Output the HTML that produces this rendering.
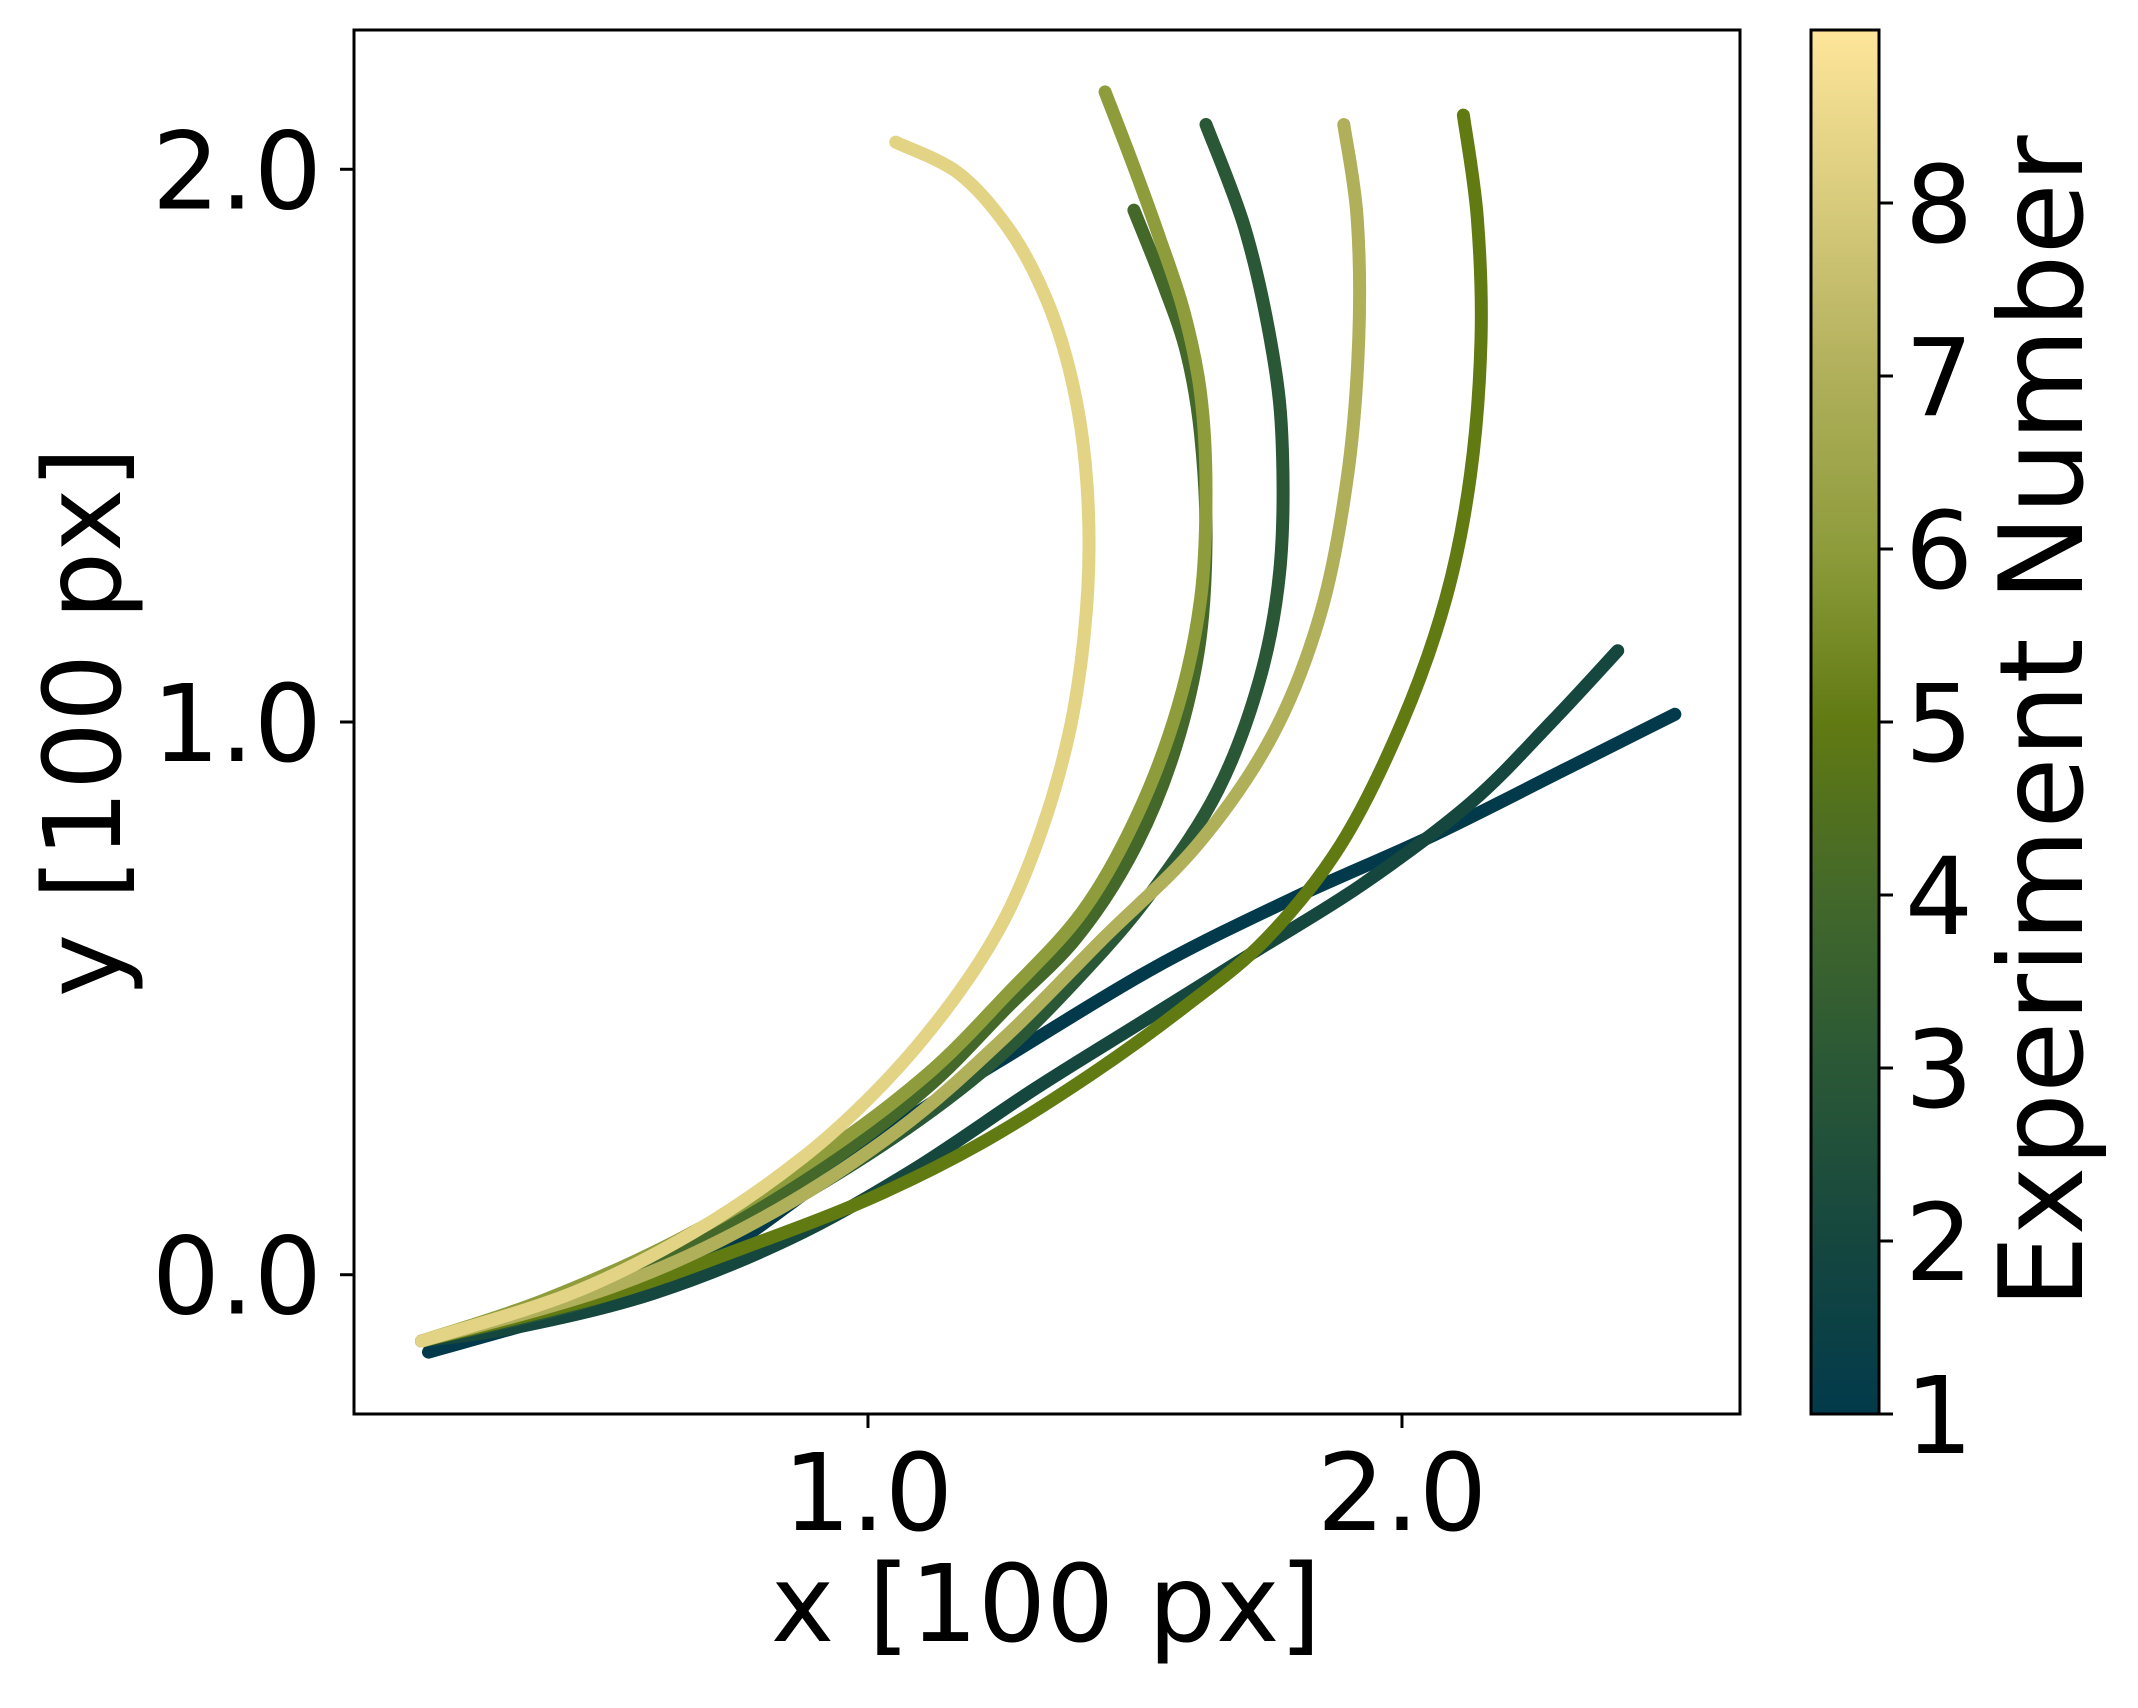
<!DOCTYPE html>
<html><head><meta charset="utf-8"><style>
html,body{margin:0;padding:0;background:#fff;}
svg text{font-family:"DejaVu Sans","Liberation Sans",sans-serif;fill:#000;}
</style></head><body>
<svg id="chart" width="2138" height="1703" viewBox="0 0 2138 1703" xmlns="http://www.w3.org/2000/svg">
<defs>
<linearGradient id="cmap" x1="0" y1="1" x2="0" y2="0">
<stop offset="0" stop-color="#023a4b"/>
<stop offset="0.125" stop-color="#15473f"/>
<stop offset="0.25" stop-color="#2a5836"/>
<stop offset="0.375" stop-color="#43682a"/>
<stop offset="0.5" stop-color="#617a12"/>
<stop offset="0.625" stop-color="#8e9c3c"/>
<stop offset="0.75" stop-color="#b0af5a"/>
<stop offset="0.875" stop-color="#d8cb7c"/>
<stop offset="1" stop-color="#fee59a"/>
</linearGradient>
</defs>
<g id="plot"></g>
<rect x="354" y="30" width="1386" height="1384" fill="none" stroke="#000" stroke-width="3"/>
<g id="axes"></g>
<rect x="1811" y="30" width="68" height="1384" fill="url(#cmap)" stroke="#000" stroke-width="3"/>
<g id="cbar"></g>
<text x="1046" y="1641" font-size="107" text-anchor="middle">x [100 px]</text>
<text transform="translate(120,722) rotate(-90)" font-size="107" text-anchor="middle">y [100 px]</text>
<text transform="translate(2082,722) rotate(-90)" font-size="116" text-anchor="middle">Experiment Number</text>
</svg>
<script>
const xTicks = [1.0, 2.0];
const xTickLabels = ["1.0", "2.0"];
const yTicks = [0.0, 1.0, 2.0];
const yTickLabels = ["0.0", "1.0", "2.0"];
const cbarTicks = [1, 2, 3, 4, 5, 6, 7, 8];
const experiments = [1, 2, 3, 4, 5, 6, 7, 8.3];
const exp1X = [2.511,2.307,2.052,1.796,1.541,1.286,1.082,0.904,0.700,0.470,0.177];
const exp1Y = [1.014,0.915,0.792,0.681,0.558,0.410,0.287,0.163,0.028,-0.058,-0.140];
const exp2X = [2.404,2.281,2.128,1.924,1.720,1.516,1.312,1.082,0.853,0.597,0.342,0.164];
const exp2Y = [1.129,1.001,0.853,0.705,0.582,0.459,0.336,0.188,0.065,-0.034,-0.095,-0.120];
const exp3X = [1.633,1.707,1.758,1.776,1.771,1.733,1.656,1.541,1.414,1.235,1.031,0.776,0.521,0.164];
const exp3Y = [2.081,1.889,1.667,1.494,1.272,1.075,0.878,0.705,0.558,0.385,0.237,0.089,-0.034,-0.120];
const exp4X = [1.498,1.554,1.597,1.623,1.633,1.618,1.567,1.490,1.388,1.261,1.108,0.904,0.649,0.393,0.164];
const exp4Y = [1.926,1.790,1.667,1.519,1.322,1.125,0.927,0.755,0.607,0.484,0.336,0.188,0.040,-0.058,-0.120];
const exp5X = [2.115,2.141,2.148,2.128,2.082,2.001,1.886,1.745,1.592,1.414,1.210,1.006,0.776,0.521,0.164];
const exp5Y = [2.098,1.913,1.691,1.445,1.223,1.001,0.779,0.607,0.484,0.360,0.237,0.139,0.052,-0.034,-0.120];
const exp6X = [1.444,1.495,1.546,1.592,1.623,1.633,1.623,1.580,1.503,1.401,1.261,1.108,0.904,0.649,0.393,0.164];
const exp6Y = [2.140,2.012,1.876,1.741,1.593,1.420,1.223,1.026,0.829,0.656,0.508,0.360,0.212,0.065,-0.046,-0.120];
const exp7X = [1.891,1.916,1.919,1.898,1.848,1.758,1.618,1.439,1.261,1.057,0.802,0.521,0.164];
const exp7Y = [2.081,1.913,1.691,1.445,1.198,0.977,0.779,0.607,0.434,0.262,0.102,-0.022,-0.120];
const exp8X = [1.052,1.171,1.266,1.332,1.376,1.404,1.414,1.404,1.376,1.325,1.256,1.159,1.031,0.878,0.674,0.444,0.164];
const exp8Y = [2.049,1.992,1.889,1.770,1.642,1.494,1.322,1.149,0.977,0.804,0.644,0.496,0.348,0.212,0.077,-0.034,-0.120];

const seriesX = [exp1X,exp2X,exp3X,exp4X,exp5X,exp6X,exp7X,exp8X];
const seriesY = [exp1Y,exp2Y,exp3Y,exp4Y,exp5Y,exp6Y,exp7Y,exp8Y];

const NS = "http://www.w3.org/2000/svg";
const X0 = 354, X1 = 1740, Y0 = 30, Y1 = 1414;
const xMin = 0.0375, xMax = 2.633, yMin = -0.252, yMax = 2.252;
function sx(v){ return X0 + (v - xMin) / (xMax - xMin) * (X1 - X0); }
function sy(v){ return Y1 - (v - yMin) / (yMax - yMin) * (Y1 - Y0); }
const cMin = 1, cMax = 9;
function cy(v){ return Y1 - (v - cMin) / (cMax - cMin) * (Y1 - Y0); }
const stops = [[0,[2,58,75]],[0.125,[21,71,63]],[0.25,[42,88,54]],[0.375,[67,104,42]],[0.5,[97,122,18]],[0.625,[142,156,60]],[0.75,[176,175,90]],[0.875,[216,203,124]],[1,[254,229,154]]];
function cmap(v){
  const t = Math.max(0, Math.min(1, (v - cMin) / (cMax - cMin)));
  for (let i = 1; i < stops.length; i++) {
    if (t <= stops[i][0]) {
      const a = stops[i-1], b = stops[i], f = (t - a[0]) / (b[0] - a[0]);
      const c = a[1].map((q, k) => Math.round(q + (b[1][k] - q) * f));
      return "rgb(" + c.join(",") + ")";
    }
  }
  return "rgb(254,229,154)";
}
function smoothPath(pts){
  let d = "M" + pts[0][0] + "," + pts[0][1];
  for (let i = 0; i < pts.length - 1; i++) {
    const p0 = pts[Math.max(0, i-1)], p1 = pts[i], p2 = pts[i+1], p3 = pts[Math.min(pts.length-1, i+2)];
    const c1x = p1[0] + (p2[0]-p0[0])/6, c1y = p1[1] + (p2[1]-p0[1])/6;
    const c2x = p2[0] - (p3[0]-p1[0])/6, c2y = p2[1] - (p3[1]-p1[1])/6;
    d += " C" + c1x + "," + c1y + " " + c2x + "," + c2y + " " + p2[0] + "," + p2[1];
  }
  return d;
}
const plot = document.getElementById("plot");
for (let s = 0; s < seriesX.length; s++) {
  const pts = seriesX[s].map((v, i) => [sx(v), sy(seriesY[s][i])]);
  const col = cmap(experiments[s]);
  const p = document.createElementNS(NS, "path");
  
  
  p.setAttribute("d", smoothPath(pts));
  p.setAttribute("fill", "none");
  p.setAttribute("stroke", col);
  p.setAttribute("stroke-width", "13");
  p.setAttribute("stroke-linecap", "round");
  p.setAttribute("stroke-linejoin", "round");
  plot.appendChild(p);
}
const axes = document.getElementById("axes");
function add(parent, tag, attrs, text){
  const e = document.createElementNS(NS, tag);
  for (const k in attrs) e.setAttribute(k, attrs[k]);
  if (text !== undefined) e.textContent = text;
  parent.appendChild(e);
  return e;
}
xTicks.forEach((v, i) => {
  const t = add(axes, "line", {x1: sx(v), x2: sx(v), y1: Y1, y2: Y1 + 14, stroke: "#000", "stroke-width": 3});
  
  
  const l = add(axes, "text", {x: sx(v), y: 1530, "font-size": 107, "text-anchor": "middle"}, xTickLabels[i]);
  
  
});
yTicks.forEach((v, i) => {
  const t = add(axes, "line", {x1: X0 - 14, x2: X0, y1: sy(v), y2: sy(v), stroke: "#000", "stroke-width": 3});
  
  
  const l = add(axes, "text", {x: 322, y: sy(v) + 39, "font-size": 107, "text-anchor": "end"}, yTickLabels[i]);
  
  
});
const cb = document.getElementById("cbar");
cbarTicks.forEach(v => {
  const t = add(cb, "line", {x1: 1879, x2: 1893, y1: cy(v), y2: cy(v), stroke: "#000", "stroke-width": 3});
  
  
  const l = add(cb, "text", {x: 1905, y: cy(v) + 39, "font-size": 107}, String(v));
  
  
});
</script>
</body></html>
